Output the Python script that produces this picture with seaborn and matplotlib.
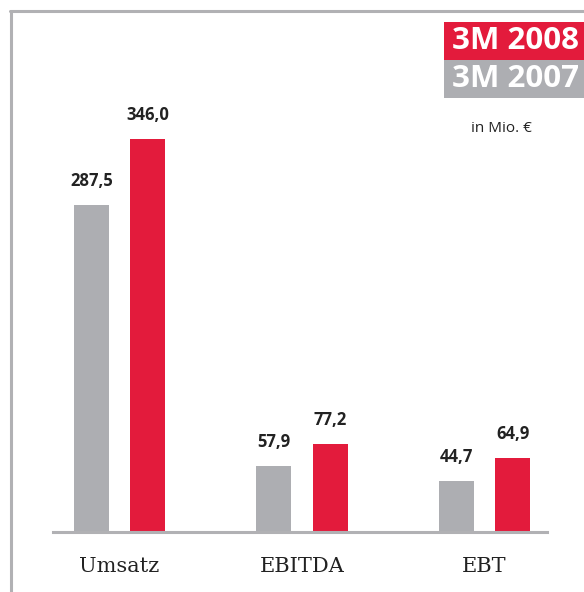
import matplotlib
matplotlib.use("Agg")
import matplotlib.pyplot as plt
from matplotlib.lines import Line2D
from matplotlib.patches import Rectangle
import pandas as pd
import seaborn as sns

# Data
kennzahlen = ["Umsatz", "EBITDA", "EBT"]
werte_2007 = [287.5, 57.9, 44.7]
werte_2008 = [346.0, 77.2, 64.9]
jahre = ["3M 2007", "3M 2008"]

rot = "#e31b3c"
grau = "#adaeb2"
linie = "#b1b1b4"

df = pd.DataFrame({
    "kennzahl": kennzahlen * 2,
    "jahr": [jahre[0]] * 3 + [jahre[1]] * 3,
    "wert": werte_2007 + werte_2008,
})

sns.set_style("white")
fig = plt.figure(figsize=(5.84, 5.92), dpi=100)
ax = fig.add_axes([53 / 584, 1 - 532 / 592, (547 - 53) / 584, (532 - 11) / 592])

sns.barplot(data=df, x="kennzahl", y="wert", hue="jahr", hue_order=jahre,
            palette=[grau, rot], width=0.614, gap=0.375, saturation=1,
            linewidth=0, legend=False, ax=ax)

for cont, vals in zip(ax.containers, [werte_2007, werte_2008]):
    ax.bar_label(cont, labels=[f"{v:.1f}".replace(".", ",") for v in vals],
                 padding=11, fontsize=12, fontweight="bold", color="#222222",
                 family="Open Sans")

ax.set_xlim(-0.364, 2.342)
ax.set_ylim(0, 458.6)
ax.set_xlabel("")
ax.set_ylabel("")
ax.set_yticks([])
ax.tick_params(axis="x", length=0, pad=18)
for lbl in ax.get_xticklabels():
    lbl.set_family("DejaVu Serif")
    lbl.set_fontsize(15)
    lbl.set_color("#222222")
for s in ["top", "right", "left"]:
    ax.spines[s].set_visible(False)
ax.spines["bottom"].set_color(linie)
ax.spines["bottom"].set_linewidth(2.2)

# outer frame (top and left)
fig.add_artist(Line2D([11 / 584, 11 / 584], [0, 1 - 11 / 592], color=linie,
                      lw=2.2, transform=fig.transFigure))
fig.add_artist(Line2D([10 / 584, 1], [1 - 11 / 592, 1 - 11 / 592], color=linie,
                      lw=2.2, transform=fig.transFigure))

# legend boxes
for i, (txt, col) in enumerate([("3M 2008", rot), ("3M 2007", grau)]):
    y0 = 1 - (60 + 38 * i) / 592
    fig.add_artist(Rectangle((444 / 584, y0), 140 / 584, 38 / 592,
                             facecolor=col, edgecolor="none",
                             transform=fig.transFigure))
    fig.text(579 / 584, y0 + 19 / 592, txt, color="white", fontsize=22.5,
             fontweight="bold", family="Open Sans", ha="right", va="center")

fig.text(501 / 584, 1 - 128 / 592, "in Mio. €", fontsize=11, color="#222222",
         family="Open Sans", ha="center", va="center")

fig.savefig("out.png", dpi=100)
